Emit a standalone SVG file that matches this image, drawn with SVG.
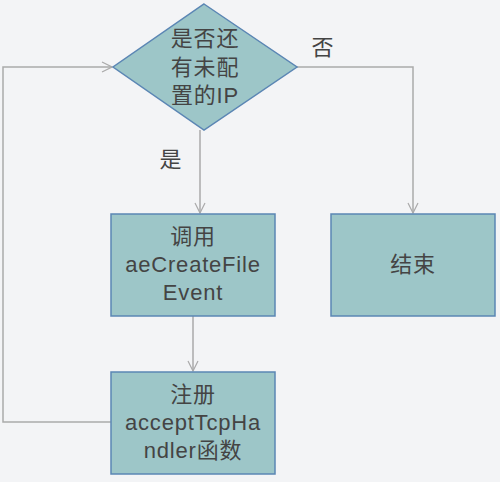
<svg xmlns="http://www.w3.org/2000/svg" width="500" height="482" viewBox="0 0 500 482">
<defs>
<style>
.node{fill:#9dc6c8;stroke:#5b86b4;stroke-width:1.5}
.t{font-family:"Liberation Sans","Noto Sans CJK SC",sans-serif;font-size:22px;fill:#444;text-anchor:middle;dominant-baseline:central;letter-spacing:0.8px}
.c{fill:none;stroke:#aaaaaa;stroke-width:1.5}
</style>
<marker id="arr" viewBox="0 0 12 12" refX="11" refY="6" markerWidth="12" markerHeight="12" markerUnits="userSpaceOnUse" orient="auto">
<path d="M1,1 L11,6 L1,11" fill="none" stroke="#aaaaaa" stroke-width="1.2"/>
</marker>
</defs>
<rect width="500" height="482" fill="#f3f4f6"/>
<g id="connectors">
<path class="c" d="M200,130 L200,213" marker-end="url(#arr)"/>
<path class="c" d="M297,67 L413,67 L413,213" marker-end="url(#arr)"/>
<path class="c" d="M193,316 L193,371" marker-end="url(#arr)"/>
<path class="c" d="M111,422 L3,422 L3,67 L112,67" marker-end="url(#arr)"/>
<text class="t" x="323" y="47">否</text>
<text class="t" x="171" y="159">是</text>
</g>
<g id="decision">
<polygon class="node" points="204,4 297,67 204,130 113,67"/>
<text class="t" x="205" y="38">是否还</text>
<text class="t" x="205" y="67">有未配</text>
<text class="t" x="205" y="95">置的IP</text>
</g>
<g id="create">
<rect class="node" x="111" y="214" width="164" height="102"/>
<text class="t" x="193" y="236">调用</text>
<text class="t" x="193" y="264">aeCreateFile</text>
<text class="t" x="193" y="292">Event</text>
</g>
<g id="end">
<rect class="node" x="331" y="214" width="164" height="102"/>
<text class="t" x="413" y="264">结束</text>
</g>
<g id="register">
<rect class="node" x="111" y="372" width="164" height="102"/>
<text class="t" x="193" y="394">注册</text>
<text class="t" x="193" y="422">acceptTcpHa</text>
<text class="t" x="193" y="450">ndler函数</text>
</g>
</svg>
